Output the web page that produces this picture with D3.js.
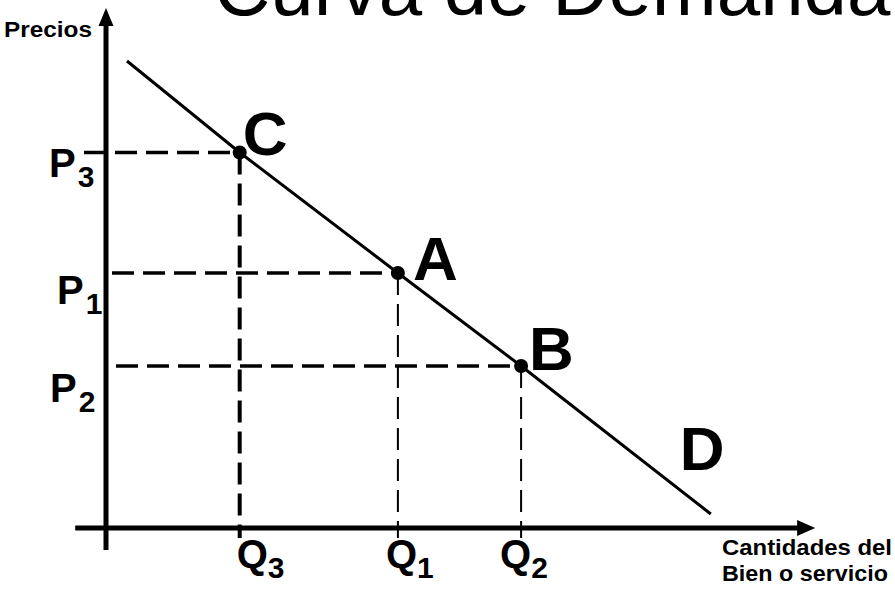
<!DOCTYPE html>
<html>
<head>
<meta charset="utf-8">
<script src="https://cdn.jsdelivr.net/npm/d3@7"></script>
<style>
  html, body { margin: 0; padding: 0; background: #fff; }
  text { font-family: Arial, 'Liberation Sans', Helvetica, sans-serif; fill: #000; }
</style>
</head>
<body>
<div id="main"></div>
<script>
// chart data (quantity / price units)
const pointNames = ['C', 'A', 'B'];
const pointQty = [19.1, 41.7, 59.3];
const pointPrice = [75.1, 51, 32.4];
const qtySubs = ['3', '1', '2'];
const priceSubs = ['3', '1', '2'];
const demandQty = [3, 19.1, 41.7, 59.3, 86.4];
const demandPrice = [93.4, 75.1, 51, 32.4, 2.8];
const title = 'Curva de Demanda';
const yLabel = 'Precios';
const xLabel = ['Cantidades del', 'Bien o servicio'];

// set up the size
const WIDTH = 895;
const HEIGHT = 590;

// label nudges (pixels)
const NAME_DX = [3, 15, 8];
const NAME_DY = [2, 7, 4];
const P_X = [49, 57, 50];
const P_DY = [24, 31, 36];
const Q_DX = [-3, -12, -21];
const DASH = '22,9';

const svg = d3
  .select('div#main')
  .append('svg')
  .attr('width', WIDTH)
  .attr('height', HEIGHT);

// scalers
const xScale = d3.scaleLinear().domain([0, 100]).range([106, 806]);
const yScale = d3.scaleLinear().domain([0, 100]).range([528, 28]);

// title, cut at the top like the slide
svg
  .append('text')
  .attr('x', 214)
  .attr('y', 15)
  .style('font-size', '78px')
  .text(title);

// axes with arrow heads
const buildAxes = () => {
  const x0 = xScale(0);
  const y0 = yScale(0);
  const yTop = yScale(104);
  const xEnd = xScale(101.3);

  svg
    .append('line')
    .attr('x1', x0)
    .attr('x2', x0)
    .attr('y1', yScale(-4.4))
    .attr('y2', yTop + 14)
    .attr('stroke', '#000')
    .attr('stroke-width', 5);

  svg
    .append('path')
    .attr('d', `M${x0},${yTop} L${x0 - 7.5},${yTop + 18} L${x0 + 7.5},${yTop + 18} Z`)
    .attr('fill', '#000');

  svg
    .append('line')
    .attr('x1', xScale(-4.4))
    .attr('x2', xEnd - 14)
    .attr('y1', y0)
    .attr('y2', y0)
    .attr('stroke', '#000')
    .attr('stroke-width', 5);

  svg
    .append('path')
    .attr('d', `M${xEnd},${y0} L${xEnd - 18},${y0 - 8} L${xEnd - 18},${y0 + 8} Z`)
    .attr('fill', '#000');

  svg
    .append('text')
    .attr('x', 4)
    .attr('y', 37)
    .attr('textLength', 88)
    .attr('lengthAdjust', 'spacingAndGlyphs')
    .style('font-size', '22px')
    .style('font-weight', 'bold')
    .text(yLabel);

  xLabel.forEach((t, i) => {
    svg
      .append('text')
      .attr('x', 722)
      .attr('y', 555 + i * 26)
      .attr('textLength', i === 0 ? 170 : 166)
      .attr('lengthAdjust', 'spacingAndGlyphs')
      .style('font-size', '22px')
      .style('font-weight', 'bold')
      .text(t);
  });
};

// dashed guides from each point to the axes
const renderGuides = () => {
  pointQty.forEach((q, i) => {
    const px = xScale(q);
    const py = yScale(pointPrice[i]);
    const hStart = [84, 112, 116][i];

    svg
      .append('line')
      .attr('x1', hStart)
      .attr('x2', px)
      .attr('y1', py)
      .attr('y2', py)
      .attr('stroke', '#000')
      .attr('stroke-width', 3.5)
      .attr('stroke-dasharray', DASH);

    svg
      .append('line')
      .attr('x1', px)
      .attr('x2', px)
      .attr('y1', py)
      .attr('y2', yScale(-2))
      .attr('stroke', '#000')
      .attr('stroke-width', i === 0 ? 4 : 2)
      .attr('stroke-dasharray', DASH);
  });
};

const renderDemand = () => {
  const line = d3
    .line()
    .x((d) => xScale(d[0]))
    .y((d) => yScale(d[1]));

  svg
    .append('path')
    .datum(d3.zip(demandQty, demandPrice))
    .attr('d', line)
    .attr('fill', 'none')
    .attr('stroke', '#000')
    .attr('stroke-width', 3);

  svg
    .selectAll('.dot')
    .data(pointQty)
    .enter()
    .append('circle')
    .attr('class', 'dot')
    .attr('r', 7)
    .attr('cx', (d) => xScale(d))
    .attr('cy', (d, i) => yScale(pointPrice[i]));

  svg
    .selectAll('.name')
    .data(pointNames)
    .enter()
    .append('text')
    .attr('class', 'name')
    .attr('x', (d, i) => xScale(pointQty[i]) + NAME_DX[i])
    .attr('y', (d, i) => yScale(pointPrice[i]) + NAME_DY[i])
    .style('font-size', '62px')
    .style('font-weight', 'bold')
    .text((d) => d);

  // curve name at the lower end
  svg
    .append('text')
    .attr('x', xScale(demandQty[4]) - 31)
    .attr('y', yScale(demandPrice[4]) - 44)
    .style('font-size', '62px')
    .style('font-weight', 'bold')
    .text('D');
};

// P and Q labels with subscripts
const renderTickLabels = () => {
  priceSubs.forEach((s, i) => {
    const t = svg
      .append('text')
      .attr('x', P_X[i])
      .attr('y', yScale(pointPrice[i]) + P_DY[i])
      .style('font-size', '40px')
      .style('font-weight', 'bold');
    t.append('tspan').text('P');
    t.append('tspan').attr('dx', 2).attr('dy', 10).style('font-size', '30px').text(s);
  });

  qtySubs.forEach((s, i) => {
    const t = svg
      .append('text')
      .attr('x', xScale(pointQty[i]) + Q_DX[i])
      .attr('y', 568)
      .style('font-size', '40px')
      .style('font-weight', 'bold');
    t.append('tspan').text('Q');
    t.append('tspan').attr('dx', 0).attr('dy', 10).style('font-size', '30px').text(s);
  });
};

renderGuides();
renderDemand();
buildAxes();
renderTickLabels();
</script>
</body>
</html>
